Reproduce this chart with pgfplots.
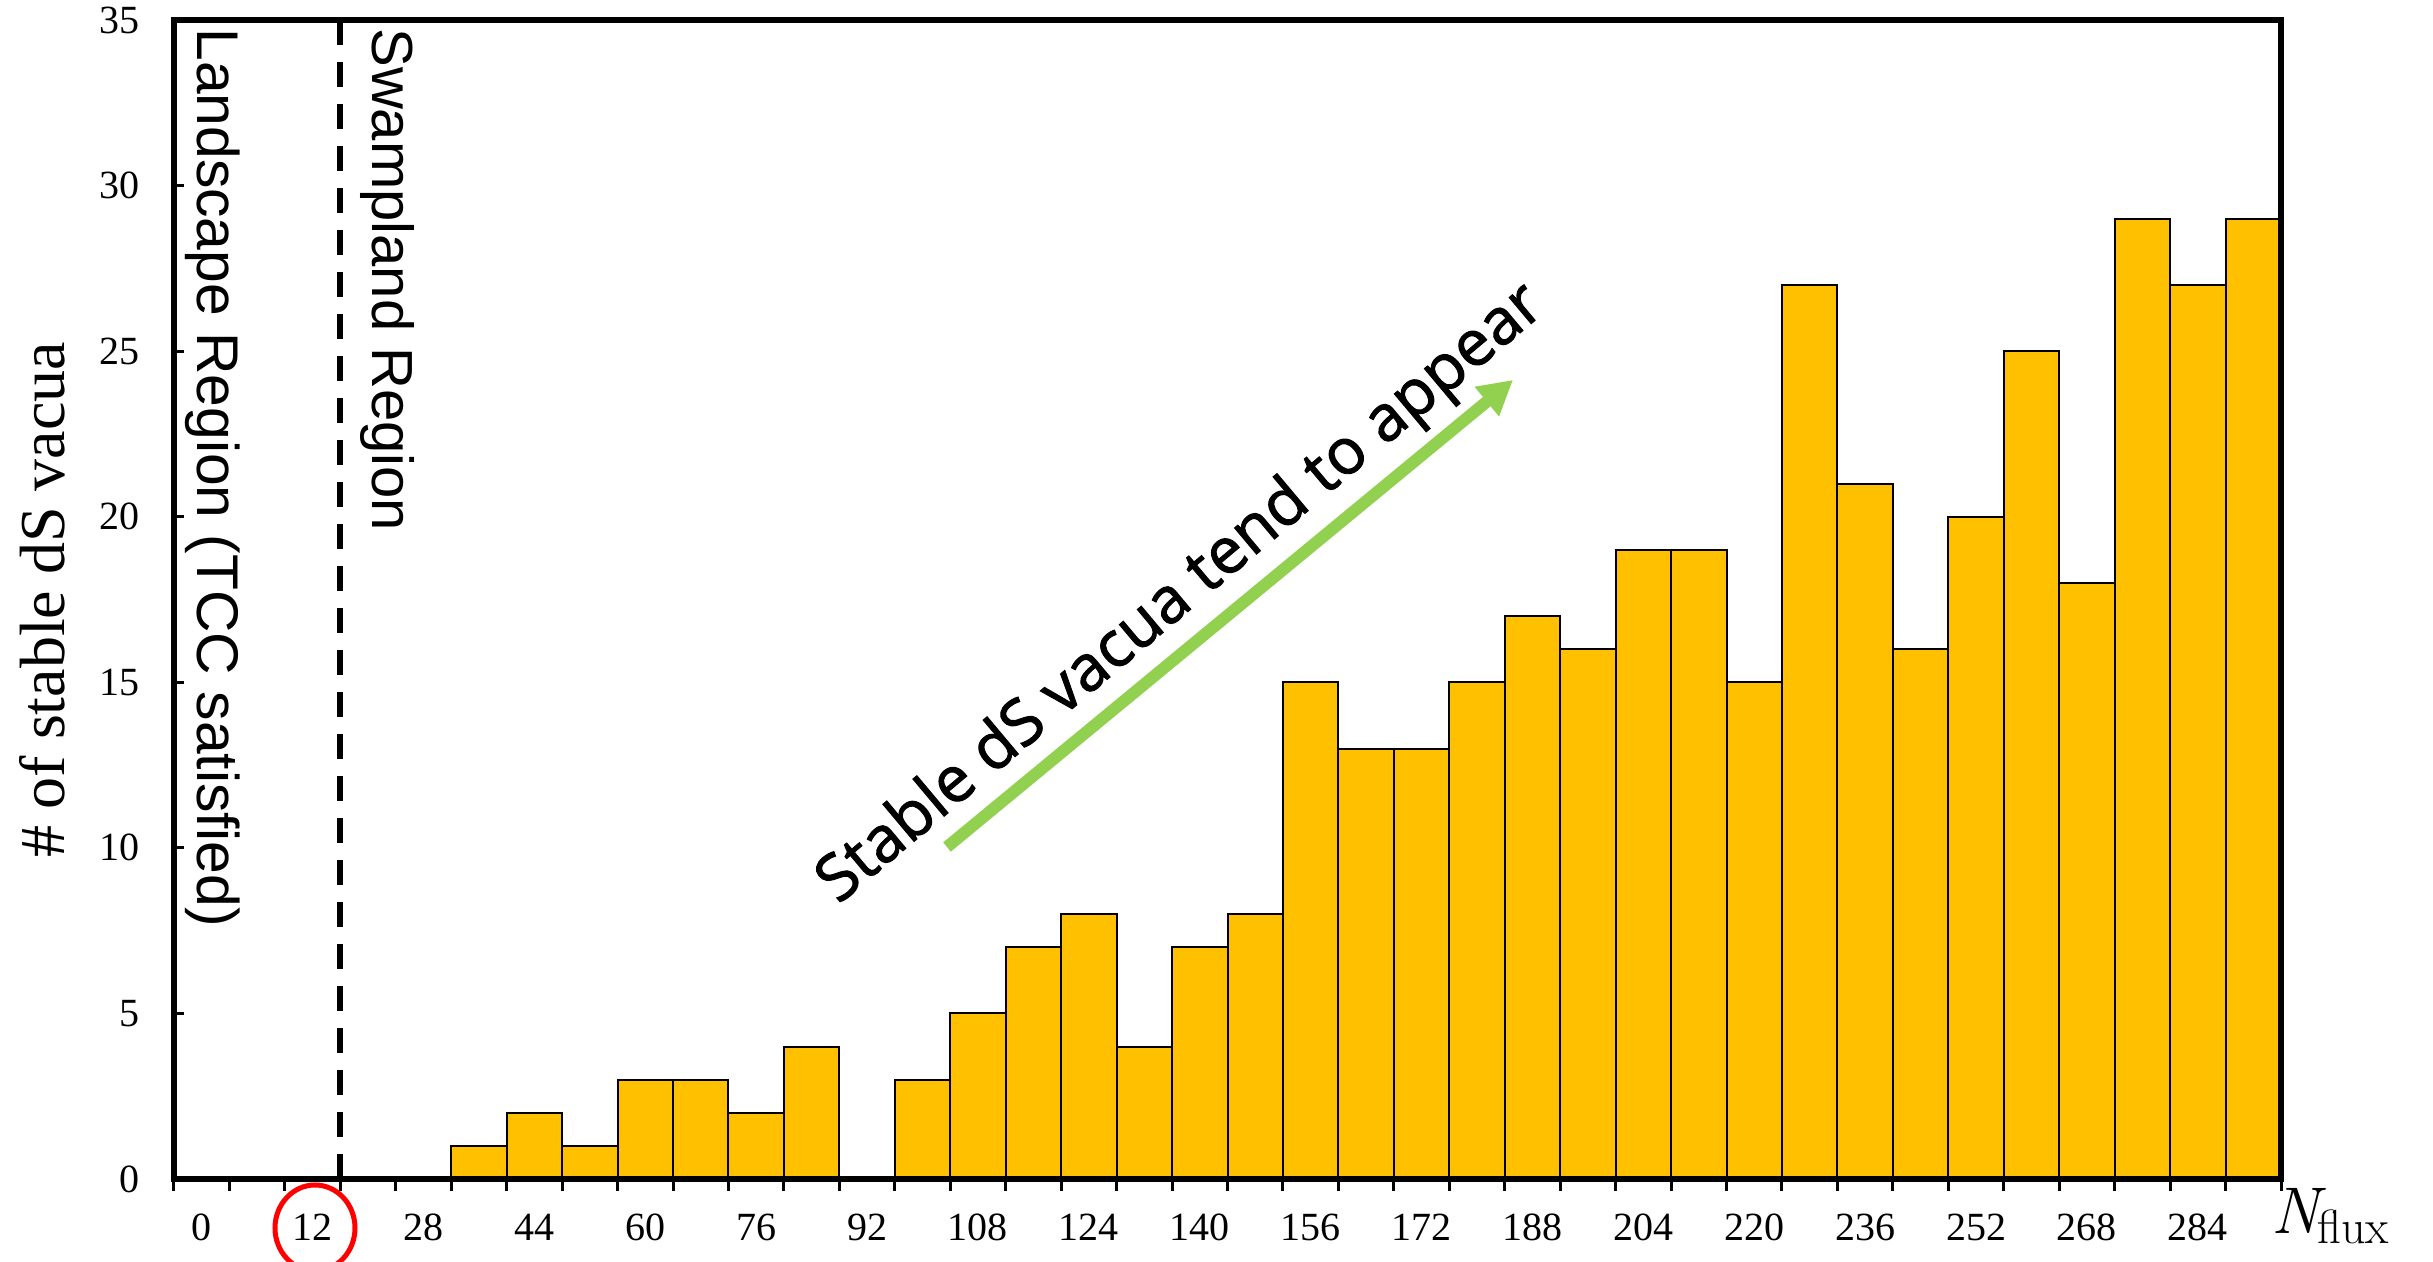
\documentclass[border=0pt]{standalone}
\usepackage[no-math]{fontspec}
\setmainfont{Liberation Serif}
\newfontfamily\arialfont{Liberation Sans}
\newfontfamily\lmfont{Latin Modern Roman}
\newfontfamily\annfont[FakeBold=1.5]{Open Sans}
\usepackage{pgfplots}
\pgfplotsset{compat=1.18}
\usetikzlibrary{arrows.meta}
\definecolor{bargold}{HTML}{FFC000}
\definecolor{arrowgreen}{HTML}{92D050}
\begin{document}
\begin{tikzpicture}
\begin{axis}[
  at={(0pt,0pt)}, anchor=south west,
  scale only axis, width=1053.5pt, height=579.5pt,
  xmin=-0.5, xmax=37.5, ymin=0, ymax=35,
  axis on top, clip=false,
  axis line style={line width=2.75pt},
  tick align=inside, tick pos=left,
  xtick={0,2,...,36},
  xticklabels={0,12,28,44,60,76,92,108,124,140,156,172,188,204,220,236,252,268,284},
  major x tick style={draw=none},
  minor xtick={-0.5,0.5,...,37.5},
  minor x tick style={line width=1.5pt, black, yshift=-6pt},
  minor tick length=6pt,
  ytick={0,5,...,35},
  major tick length=5pt,
  y tick style={line width=1.5pt, black},
  xticklabel style={font=\fontsize{20}{24}\selectfont, inner sep=0pt, anchor=north, yshift=-17.5pt},
  yticklabel style={font=\fontsize{20}{24}\selectfont, inner sep=0pt, anchor=east, xshift=-17pt},
  /pgf/number format/assume math mode=true,
]
\addplot[ybar, bar width=1, bar shift=0pt, fill=bargold, draw=black, line width=1pt] coordinates {
(0,0) (1,0) (2,0) (3,0) (4,0) (5,1) (6,2) (7,1) (8,3) (9,3)
(10,2) (11,4) (12,0) (13,3) (14,5) (15,7) (16,8) (17,4) (18,7) (19,8)
(20,15) (21,13) (22,13) (23,15) (24,17) (25,16) (26,19) (27,19) (28,15) (29,27)
(30,21) (31,16) (32,20) (33,25) (34,18) (35,29) (36,27) (37,29)
};
\addplot[black, line width=3pt, dash pattern=on 12.5pt off 8.5pt] coordinates {(2.5,0) (2.5,35)};
\end{axis}
% region labels
\node[rotate=-90, anchor=base west, inner sep=0pt, font=\arialfont\fontsize{29.4}{34}\selectfont] at (12pt,575.5pt) {Landscape Region (TCC satisfied)};
\node[rotate=-90, anchor=base west, inner sep=0pt, font=\arialfont\fontsize{29}{34}\selectfont] at (99pt,575.5pt) {Swampland Region};
% y label
\node[rotate=90, inner sep=0pt, font=\fontsize{32}{38}\selectfont] at (-66pt,289.75pt) {\# of stable dS vacua};
% x label
\node[anchor=north west, inner sep=0pt, font=\lmfont\fontsize{33}{38}\selectfont] at (1048.5pt,-4.5pt) {{\itshape N}\kern-1pt\raisebox{-5pt}{\fontsize{24}{28}\selectfont flux}};
% red circle
\draw[red, line width=2.5pt] (70.5pt,-24.5pt) ellipse [x radius=20pt, y radius=21.5pt];
% arrow and annotation
\draw[arrowgreen, line width=6pt, -{Triangle[length=17pt,width=18pt]}] (386.5pt,166pt) -- (669.5pt,399.5pt);
\node[rotate=40, inner sep=0pt, font=\annfont\fontsize{32}{38}\selectfont] at (504pt,292pt) {Stable dS vacua tend to appear};
\pgfresetboundingbox
\path[use as bounding box] (-87pt,-41.5pt) rectangle (1129.5pt,589.5pt);
\end{tikzpicture}
\end{document}
